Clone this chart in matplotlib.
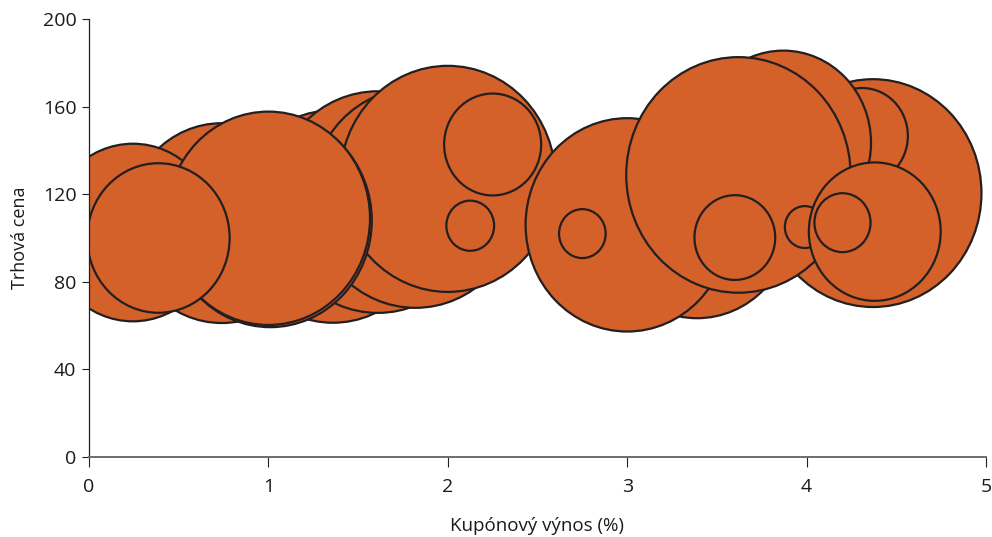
import numpy as np
import matplotlib
matplotlib.use("Agg")
import matplotlib.pyplot as plt
from matplotlib.path import Path

plt.rcParams['font.family'] = ['Open Sans', 'DejaVu Sans']

# Data (drawing order as in reference)
kuponovy_vynos = [0.74, 0.245, 1.36, 1.61, 1.82, 2.00, 2.25, 2.125, 1.01, 1.00, 0.387,
                  3.39, 3.00, 2.75, 4.37, 4.31, 3.87, 3.62, 3.60, 3.99, 4.38, 4.20]
trzni_cena = [106.8, 102.5, 109.8, 116.4, 118.3, 127.0, 142.7, 105.6, 108.0, 109.0, 100.0,
              109.0, 106.0, 102.0, 120.5, 146.6, 143.5, 128.8, 100.2, 105.0, 102.9, 107.0]
objem = [100, 79, 113, 123, 121, 128, 26, 6.3, 114, 114, 56,
         100, 114, 6.0, 130, 23, 85, 139, 18, 4.4, 48, 8.7]

x_ticks = [0, 1, 2, 3, 4, 5]
y_ticks = [0, 40, 80, 120, 160, 200]
x_label = "Kupónový výnos (%)"
y_label = "Trhová cena"

fill_color = "#D4602A"
edge_color = "#231F20"

fig = plt.figure(figsize=(9.92, 5.37), dpi=100)
ax = fig.add_axes([89/992, 80/537, 897/992, 438/537])

# slightly tall ellipse marker
circ = Path.unit_circle()
verts = circ.vertices.copy()
verts[:, 0] /= 1.05
ell = Path(verts, circ.codes)

size_scale = 207.0
sizes = [v * size_scale for v in objem]
ax.scatter(kuponovy_vynos, trzni_cena, s=sizes, marker=ell, c=fill_color,
           edgecolors=edge_color, linewidths=1.6, zorder=2, clip_on=True)

ax.set_xlim(0, 5)
ax.set_ylim(0, 200)
ax.set_xticks(x_ticks)
ax.set_yticks(y_ticks)
ax.set_xticklabels([str(v) for v in x_ticks])
ax.set_yticklabels([str(v) for v in y_ticks])

for s in ['top', 'right']:
    ax.spines[s].set_visible(False)
ax.spines['left'].set_color(edge_color)
ax.spines['left'].set_linewidth(0.9)
ax.spines['bottom'].set_color("#6d6d6d")
ax.spines['bottom'].set_linewidth(1.4)

ax.tick_params(axis='y', direction='out', length=5, width=0.8, color=edge_color,
               labelsize=14, labelcolor="#1a1a1a", pad=4)
ax.tick_params(axis='x', direction='out', length=7, width=0.8, color=edge_color,
               labelsize=14, labelcolor="#1a1a1a", pad=8)

ax.set_xlabel(x_label, fontsize=13.5, color="#1a1a1a", labelpad=15)
ax.set_ylabel(y_label, fontsize=13, color="#1a1a1a", labelpad=10)

fig.savefig("out.png", dpi=100)
